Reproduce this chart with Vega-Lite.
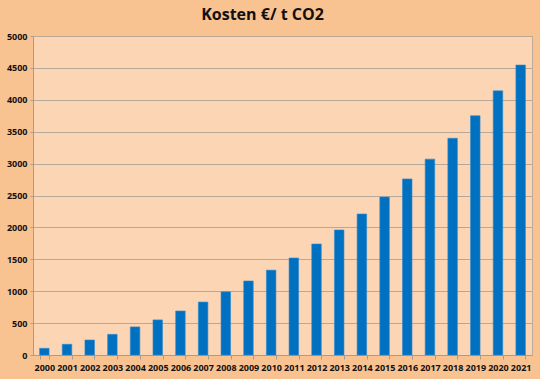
{
  "$schema": "https://vega.github.io/schema/vega-lite/v6.json",
  "autosize": {"type": "none"},
  "width": 499,
  "height": 319,
  "padding": {"left": 33, "top": 36, "right": 8, "bottom": 24},
  "background": "#F9C291",
  "title": {
    "text": "Kosten €/ t CO2",
    "font": "Open Sans",
    "fontSize": 16,
    "fontWeight": "bold",
    "color": "#111111",
    "anchor": "middle",
    "dx": -20,
    "offset": 9
  },
  "data": {
    "values": [
      {"Jahr": "2000", "Kosten": 105},
      {"Jahr": "2001", "Kosten": 168},
      {"Jahr": "2002", "Kosten": 235},
      {"Jahr": "2003", "Kosten": 324},
      {"Jahr": "2004", "Kosten": 440},
      {"Jahr": "2005", "Kosten": 550},
      {"Jahr": "2006", "Kosten": 690},
      {"Jahr": "2007", "Kosten": 830},
      {"Jahr": "2008", "Kosten": 990},
      {"Jahr": "2009", "Kosten": 1160},
      {"Jahr": "2010", "Kosten": 1330},
      {"Jahr": "2011", "Kosten": 1520},
      {"Jahr": "2012", "Kosten": 1740},
      {"Jahr": "2013", "Kosten": 1960},
      {"Jahr": "2014", "Kosten": 2210},
      {"Jahr": "2015", "Kosten": 2475},
      {"Jahr": "2016", "Kosten": 2760},
      {"Jahr": "2017", "Kosten": 3070},
      {"Jahr": "2018", "Kosten": 3397},
      {"Jahr": "2019", "Kosten": 3750},
      {"Jahr": "2020", "Kosten": 4140},
      {"Jahr": "2021", "Kosten": 4545}
    ]
  },
  "mark": {"type": "bar", "color": "#0070C0", "stroke": "#2E8BD0", "strokeWidth": 0.6},
  "encoding": {
    "x": {
      "field": "Jahr",
      "type": "ordinal",
      "scale": {"paddingInner": 0.58, "paddingOuter": 0.29},
      "axis": {
        "title": null,
        "labelAngle": 0,
        "labelFont": "Open Sans",
        "labelFontSize": 9,
        "labelFontWeight": "bold",
        "labelColor": "#111111",
        "labelPadding": 4,
        "tickBand": "extent",
        "tickColor": "#A89C90",
        "tickSize": 4,
        "domainColor": "#A89C90",
        "grid": false
      }
    },
    "y": {
      "field": "Kosten",
      "type": "quantitative",
      "scale": {"domain": [0, 5000], "nice": false},
      "axis": {
        "title": null,
        "format": "d",
        "values": [0, 500, 1000, 1500, 2000, 2500, 3000, 3500, 4000, 4500, 5000],
        "labelFont": "Open Sans",
        "labelFontSize": 9,
        "labelFontWeight": "bold",
        "labelColor": "#111111",
        "labelPadding": 3,
        "tickColor": "#A89C90",
        "tickSize": 3,
        "domainColor": "#A89C90",
        "gridColor": "#B8A898",
        "gridWidth": 1
      }
    }
  },
  "config": {
    "view": {"fill": "#FCD5B4", "stroke": "#BBAA99", "strokeWidth": 1}
  }
}
